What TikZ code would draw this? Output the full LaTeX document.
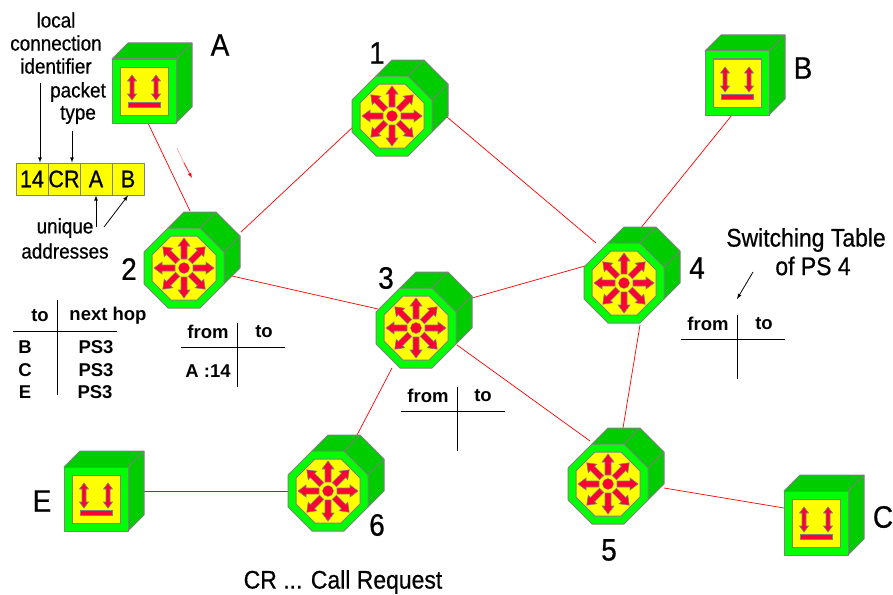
\documentclass[tikz,border=0pt]{standalone}
\usepackage{fontspec}
\setmainfont{Liberation Sans}
\newfontfamily\narrowfont[FakeStretch=0.9,FakeBold=0.6]{Liberation Sans}
\usetikzlibrary{calc}
\definecolor{lampgreen}{HTML}{00FF00}
\definecolor{sidegreen}{HTML}{00CC00}
\definecolor{boxyellow}{HTML}{FFFF00}
\definecolor{edgegray}{HTML}{808080}
\definecolor{signalred}{HTML}{FF0033}
\tikzset{
    shapeline/.style={draw=edgegray,line width=1pt,line join=round},
    link/.style={draw=red,line width=.7pt},
    bigmark/.style={font=\narrowfont\fontsize{31}{31}\selectfont,inner sep=0pt},
    note/.style={font=\narrowfont\fontsize{21}{23}\selectfont,inner sep=0pt},
    wide note/.style={font=\narrowfont\fontsize{25.5}{27}\selectfont,inner sep=0pt},
    tabletext/.style={font=\bfseries\fontsize{18.5}{20}\selectfont,inner sep=0pt},
    cell/.style={shapeline,fill=boxyellow,minimum width=32pt,minimum height=32pt,inner sep=0pt,font=\narrowfont\fontsize{24}{24}\selectfont},
    tablerule/.style={line width=.8pt},
    switchbox/.pic={
        \fill[sidegreen,shapeline](-16,-40)--(0,-56)--(32,-56)--(56,-32)--(56,0)--(40,16)--cycle;
        \draw[shapeline](16,-40)--(32,-56);
        \draw[shapeline](40,-16)--(56,-32);
        \fill[lampgreen,shapeline](-16,-40)--(16,-40)--(40,-16)--(40,16)--(16,40)--(-16,40)--(-40,16)--(-40,-16)--cycle;
        \fill[boxyellow,shapeline](-13,-32)--(13,-32)--(32,-13)--(32,13)--(13,32)--(-13,32)--(-32,13)--(-32,-13)--cycle;
        \foreach \a in {0,45,...,315}{
            \fill[signalred,draw=edgegray,line width=.6pt,rotate=\a](9,-3)--(22,-3)--(22,-6)--(30,0)--(22,6)--(22,3)--(9,3)--cycle;
        }
        \fill[signalred,draw=edgegray,line width=.3pt](0,0)circle(5.5);
    },
    hostbox/.pic={
        \fill[sidegreen,shapeline](-32,-32)--(-16,-48)--(48,-48)--(48,16)--(32,32)--cycle;
        \draw[shapeline](32,-32)--(48,-48);
        \fill[lampgreen,shapeline](-32,-32)rectangle(32,32);
        \fill[boxyellow,shapeline](-24,-24)rectangle(24,24);
        \foreach \d in {-12,12}{
            \fill[signalred,draw=edgegray,line width=.6pt,xshift=\d](0,-16)--(4.5,-10)--(2,-10)--(2,3)--(4.5,3)--(0,9)--(-4.5,3)--(-2,3)--(-2,-10)--(-4.5,-10)--cycle;
        }
        \fill[signalred,draw=edgegray,line width=.6pt](-16,11)rectangle(16,16);
    }
}
\begin{document}
\begin{tikzpicture}[>=latex,x=1pt,y=-1pt]
    \useasboundingbox (0,0) rectangle (893,594);
    \coordinate (a1) at (148,123);
    \coordinate (a2) at (190,211);
    \coordinate (b1) at (732,115);
    \coordinate (b2) at (640,229);
    \coordinate (c1) at (784,508);
    \coordinate (c2) at (664,488);
    \coordinate (e1) at (128,491);
    \coordinate (e2) at (288,491);
    \coordinate (p1) at (241,232);
    \coordinate (p2) at (354,126);
    \coordinate (q1) at (447,117);
    \coordinate (q2) at (596,243);
    \coordinate (r1) at (232,276);
    \coordinate (r2) at (378,309);
    \coordinate (s1) at (472,298);
    \coordinate (s2) at (585,266);
    \coordinate (t1) at (457,345);
    \coordinate (t2) at (590,441);
    \coordinate (u1) at (392,368);
    \coordinate (u2) at (356,437);
    \coordinate (v1) at (640,325);
    \coordinate (v2) at (623,428);
    \draw[link](a1)--(a2);
    \draw[link](b1)--(b2);
    \draw[link](c1)--(c2);
    \draw[link](e1)--(e2);
    \draw[link](p1)--(p2);
    \draw[link](q1)--(q2);
    \draw[link](r1)--(r2);
    \draw[link](s1)--(s2);
    \draw[link](t1)--(t2);
    \draw[link](u1)--(u2);
    \draw[link](v1)--(v2);
    \pic at (392,116){switchbox};
    \pic at (184,268){switchbox};
    \pic at (416,328){switchbox};
    \pic at (624,283){switchbox};
    \pic at (608,484){switchbox};
    \pic at (328,491){switchbox};
    \pic at (144,91){hostbox};
    \pic at (737,83){hostbox};
    \pic at (96,499){hostbox};
    \pic at (816,523){hostbox};
    \node[bigmark](nameA) at (220,45){A};
    \node[bigmark](nameB) at (803,68){B};
    \node[bigmark](nameC) at (883,517){C};
    \node[bigmark](nameE) at (42,501){E};
    \node[bigmark](num1) at (377,53){1};
    \node[bigmark](num2) at (129,269){2};
    \node[bigmark](num3) at (386,278){3};
    \node[bigmark](num4) at (697,268){4};
    \node[bigmark](num5) at (609,550){5};
    \node[bigmark](num6) at (377,525){6};
    \node[cell](cell14) at (32,179){14};
    \node[cell](cellCR) at (64,179){CR};
    \node[cell](cellA) at (96,179){A};
    \node[cell](cellB) at (128,179){B};
    \node[note](local) at (56,20){local};
    \node[note](conn) at (56,43){connection};
    \node[note](ident) at (56,66){identifier};
    \node[note](packet) at (78,92){packet};
    \node[note](ptype) at (78,115){type};
    \node[note](unique) at (65,228){unique};
    \node[note](addr) at (65,251){addresses};
    \coordinate (idEnd) at (40,83);
    \coordinate (typeEnd) at (72,131);
    \coordinate (uniqEnd) at (96,227);
    \coordinate (addrEnd) at (104,227);
    \draw[->,line width=.8pt](idEnd)--(idEnd|-cell14.north);
    \draw[->,line width=.8pt](typeEnd)--(typeEnd|-cellCR.north);
    \draw[->,line width=.8pt](uniqEnd)--(cellA.south);
    \draw[->,line width=.8pt](addrEnd)--(cellB.south);
    \coordinate (flow1) at (177,148);
    \coordinate (flow2) at (184,163);
    \coordinate (flow3) at (192,178);
    \draw[red!35,line width=.7pt](flow1)--(flow2);
    \draw[->,red,line width=.7pt](flow2)--(flow3);
    \draw[tablerule](57,300)--(57,395);
    \draw[tablerule](13,331)--(117,331);
    \node[tabletext](hd1) at (40,316){to};
    \node[tabletext](hd2) at (108,316){next hop};
    \node[tabletext](rowB) at (25,347){B};
    \node[tabletext](rowC) at (25,370){C};
    \node[tabletext](rowE) at (25,392){E};
    \node[tabletext](hopB) at (96,347){PS3};
    \node[tabletext](hopC) at (96,370){PS3};
    \node[tabletext](hopE) at (95,392){PS3};
    \draw[tablerule](237.5,323)--(237.5,387);
    \draw[tablerule](181,347)--(285,347);
    \node[tabletext](from2) at (208,332){from};
    \node[tabletext](to2) at (264,332){to};
    \node[tabletext](entry2) at (208,371){A :14};
    \draw[tablerule](457,387)--(457,451);
    \draw[tablerule](401,411)--(505,411);
    \node[tabletext](from3) at (428,396){from};
    \node[tabletext](to3) at (483,396){to};
    \draw[tablerule](737,315)--(737,379);
    \draw[tablerule](681,339)--(785,339);
    \node[tabletext](from4) at (708,324){from};
    \node[tabletext](to4) at (764,324){to};
    \node[wide note](switching) at (806,240){Switching Table};
    \node[wide note](ofps) at (813,266){of PS 4};
    \coordinate (tblFrom) at (753,272);
    \coordinate (tblTo) at (737,299);
    \draw[->,line width=.8pt](tblFrom)--(tblTo);
    \node[wide note](legend) at (343,582){CR ... Call Request};
\end{tikzpicture}
\end{document}
